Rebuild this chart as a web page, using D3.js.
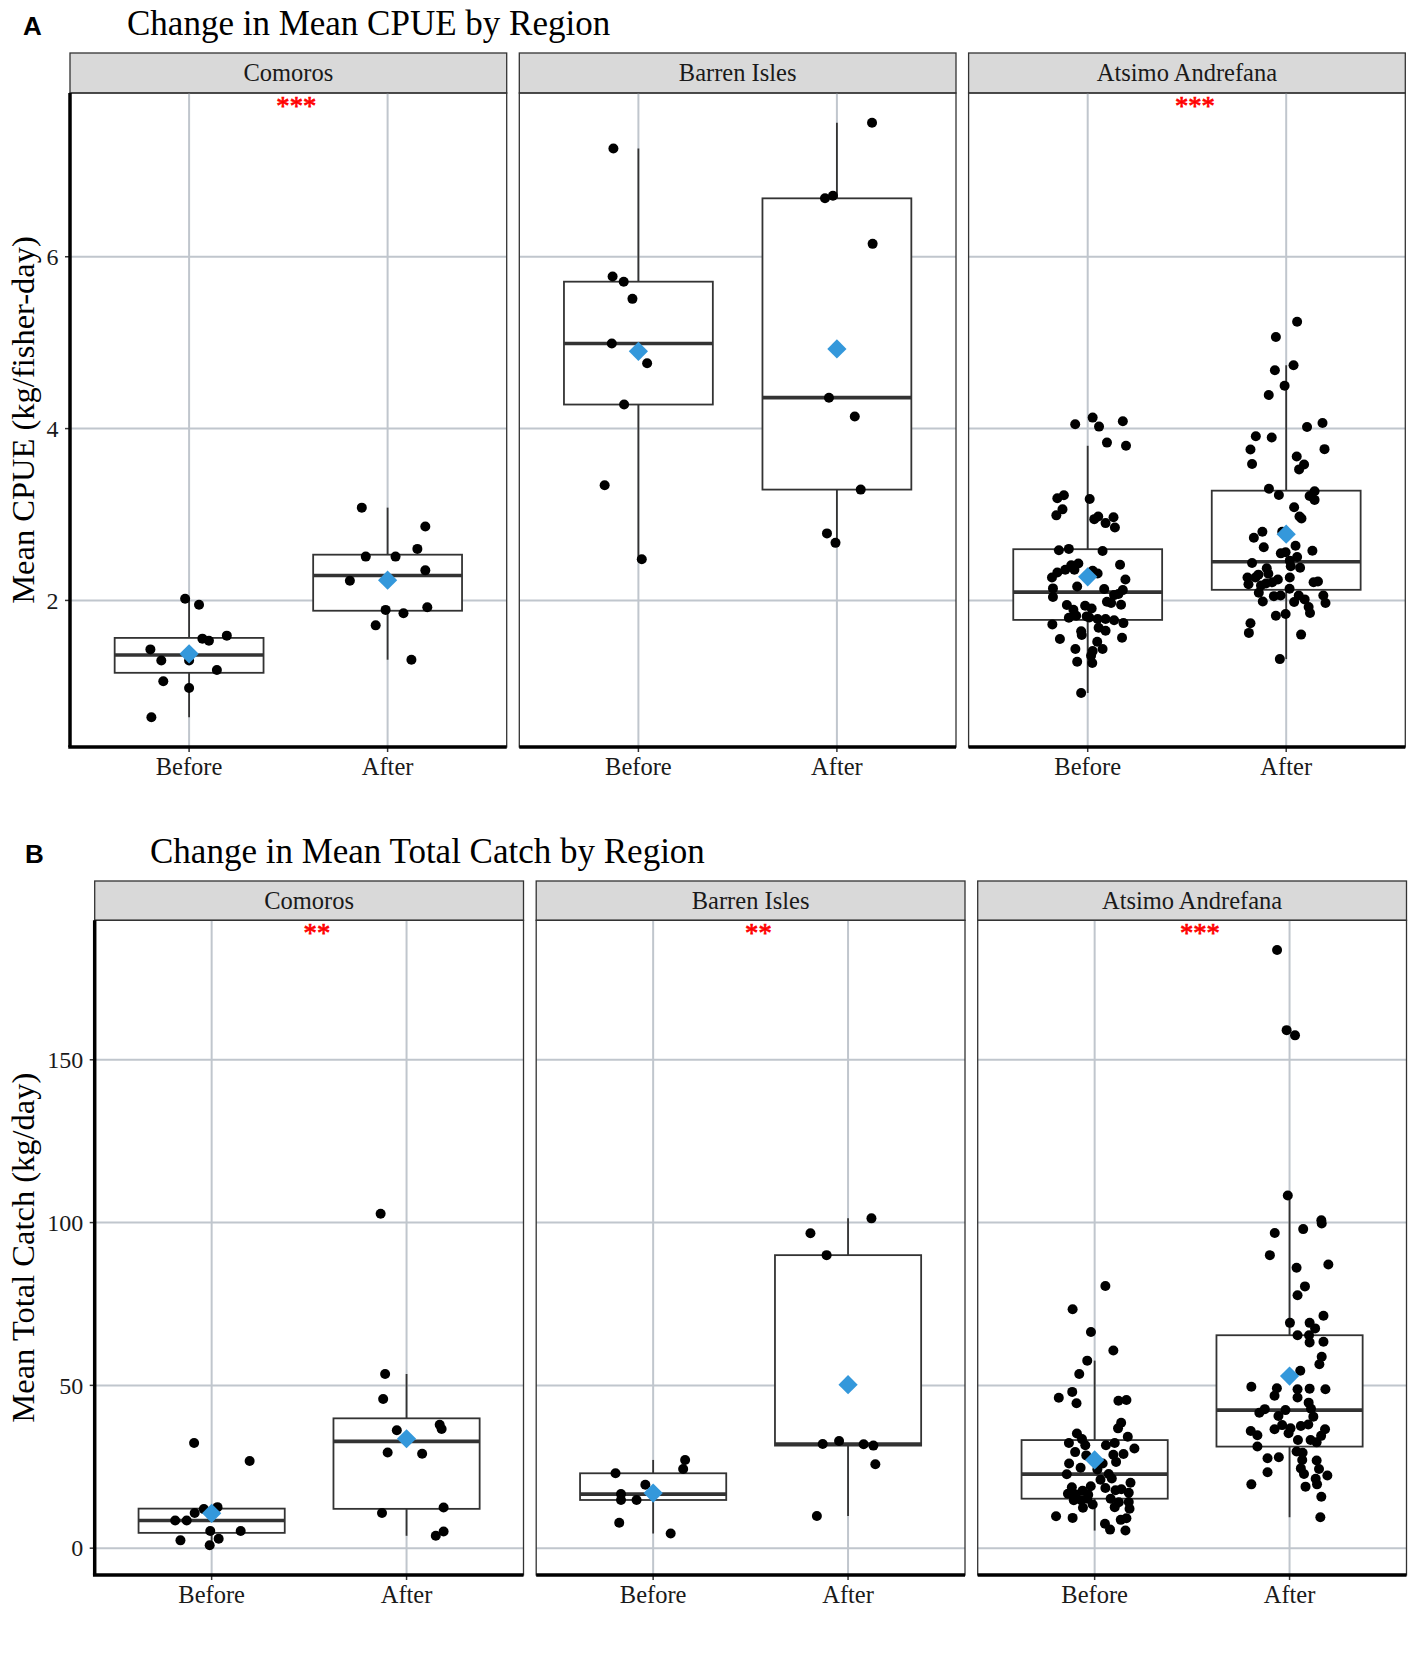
<!DOCTYPE html>
<html>
<head>
<meta charset="utf-8">
<script src="https://cdn.jsdelivr.net/npm/d3@7"></script>
<style>
body { margin: 0; background: #fff; }
text { font-family: "Liberation Serif", "Times New Roman", serif; }
</style>
</head>
<body>
<svg></svg>
<script>
// categories
var regions = ["Comoros", "Barren Isles", "Atsimo Andrefana"];
var periods = ["Before", "After"];
var cpueTicks = [2, 4, 6];
var catchTicks = [0, 50, 100, 150];
var cpueStars = ["***", "", "***"];
var catchStars = ["**", "**", "***"];

// mean CPUE (kg/fisher-day), one value per fisher, plus the jitter
var cpueComorosBefore = [2.02,1.95,1.555,1.53,1.59,1.43,1.30,1.30,1.19,1.06,0.98,0.64];
var cpueComorosBeforeJit = [-0.02,0.05,0.067,0.10,0.19,-0.195,-0.14,0.0,0.14,-0.13,0.0,-0.19];
var cpueComorosAfter = [3.08,2.86,2.51,2.51,2.60,2.35,2.23,1.89,1.85,1.92,1.71,1.31];
var cpueComorosAfterJit = [-0.13,0.19,-0.11,0.04,0.15,0.19,-0.19,-0.01,0.08,0.20,-0.06,0.12];
var cpueBarrenBefore = [7.26,5.77,5.71,5.51,4.99,4.76,4.28,3.34,2.48];
var cpueBarrenBeforeJit = [-0.126,-0.13,-0.074,-0.03,-0.134,0.044,-0.072,-0.17,0.017];
var cpueBarrenAfter = [7.56,6.68,6.71,6.15,4.36,4.14,3.29,2.78,2.67];
var cpueBarrenAfterJit = [0.177,-0.06,-0.02,0.18,-0.04,0.09,0.12,-0.05,-0.007];
var cpueAtsimoBefore = [4.128,4.05,4.023,4.085,3.837,3.80,3.225,3.19,3.18,3.06,
    2.99,2.977,2.946,2.969,2.90,2.849,2.60,2.585,2.575,2.415,
    2.43,2.41,2.357,2.326,2.267,2.357,2.345,2.314,2.244,2.163,
    2.14,2.132,2.12,2.04,2.062,2.074,1.984,1.969,1.95,1.946,
    1.891,1.938,1.907,1.798,1.822,1.814,1.802,1.783,1.783,1.77,
    1.736,1.721,1.682,1.647,1.64,1.597,1.55,1.566,1.52,1.434,
    1.434,1.41,1.357,1.287,1.271,0.922];
var cpueAtsimoBeforeJit = [0.025,-0.063,0.057,0.177,0.097,0.193,-0.12,-0.153,0.01,-0.127,
    -0.158,0.053,0.033,0.13,0.09,0.137,-0.095,-0.145,0.075,0.163,
    -0.047,-0.083,-0.113,-0.153,-0.18,-0.067,0.025,0.05,0.19,-0.053,
    -0.175,0.083,0.177,-0.175,0.133,0.155,0.097,0.118,0.168,-0.105,
    -0.072,-0.013,0.02,-0.095,-0.058,-0.005,0.008,0.05,0.09,0.133,
    0.18,-0.178,0.055,0.09,-0.033,-0.03,-0.14,0.173,0.048,-0.062,
    0.075,0.025,0.017,-0.053,0.023,-0.033];
var cpueAtsimoAfter = [5.243,5.066,4.737,4.68,4.498,4.39,4.066,4.019,3.911,3.896,
    3.761,3.757,3.676,3.583,3.525,3.587,3.30,3.27,3.228,3.216,
    3.17,3.085,2.977,2.954,2.80,2.73,2.80,2.618,2.637,2.579,
    2.548,2.56,2.506,2.463,2.436,2.398,2.375,2.31,2.266,2.266,
    2.266,2.243,2.212,2.197,2.189,2.174,2.212,2.135,2.089,2.05,
    2.058,2.058,1.988,2.058,1.981,2.012,1.923,1.969,1.853,1.822,
    1.842,1.734,1.622,1.602,1.317,2.22,2.30,2.38];
var cpueAtsimoAfterJit = [0.055,-0.052,0.037,-0.057,-0.008,-0.088,0.183,0.105,-0.153,-0.073,
    0.193,-0.18,0.053,0.09,0.065,-0.172,-0.087,0.143,-0.037,0.118,
    0.143,0.04,0.067,0.077,-0.12,-0.163,-0.02,-0.113,0.047,0.132,
    -0.027,-0.003,0.055,0.018,-0.172,0.023,-0.098,-0.09,-0.195,-0.155,
    0.018,-0.042,-0.07,-0.102,-0.19,-0.127,0.138,0.017,-0.138,-0.062,
    -0.028,0.063,-0.118,0.187,0.04,0.093,0.113,0.198,0.12,-0.052,
    -0.003,-0.18,-0.188,0.075,-0.032,0.16,-0.14,0.07];

// mean total catch (kg/day)
var catchComorosBefore = [32.3,26.8,12.6,12.0,10.8,8.5,8.5,5.3,5.3,2.9,2.4,0.9];
var catchComorosBeforeJit = [-0.09,0.195,0.03,-0.04,-0.087,-0.187,-0.128,-0.007,0.149,0.036,-0.16,-0.01];
var catchComorosAfter = [102.7,53.5,45.8,37.9,36.6,36.2,29.4,29.0,12.5,10.8,3.8,5.1];
var catchComorosAfterJit = [-0.133,-0.11,-0.12,0.17,0.18,-0.05,-0.097,0.08,0.19,-0.126,0.15,0.19];
var catchBarrenBefore = [27.1,24.3,23.0,19.5,16.6,14.8,14.8,7.8,4.5];
var catchBarrenBeforeJit = [0.164,0.154,-0.193,-0.04,-0.165,-0.165,-0.085,-0.174,0.09];
var catchBarrenAfter = [101.3,96.7,90.0,32.0,32.9,31.9,31.5,25.8,9.9];
var catchBarrenAfterJit = [0.12,-0.193,-0.11,-0.13,-0.046,0.08,0.13,0.14,-0.16];
var catchAtsimoBefore = [80.5,73.4,66.4,60.7,57.6,53.5,48.0,46.2,44.5,45.3,
    45.5,38.5,36.8,35.2,34.2,33.5,32.3,32.3,31.6,31.6,
    30.6,28.5,28.7,28.9,26.0,26.0,24.7,22.7,24.2,22.8,
    21.4,20.1,18.7,18.5,17.6,18.1,17.8,16.7,16.5,16.4,
    17.0,15.2,14.7,13.4,14.1,14.2,12.4,12.6,12.1,9.8,
    9.3,9.2,8.7,7.5,5.7,5.4,15.2,14.7,19.0,21.0,26.5,29.5];
var catchAtsimoBeforeJit = [0.055,-0.113,-0.019,0.096,-0.038,-0.079,-0.115,-0.184,-0.093,0.122,
    0.163,0.136,0.12,-0.091,0.17,-0.065,-0.132,0.103,0.058,-0.048,
    0.204,-0.043,0.096,0.148,-0.131,0.041,-0.072,-0.143,0.014,0.072,
    0.088,0.184,-0.117,0.055,-0.062,0.137,0.107,-0.137,-0.096,-0.033,
    0.175,0.082,-0.069,-0.01,0.124,0.175,-0.06,0.103,0.179,-0.198,
    -0.113,0.163,0.134,0.053,0.079,0.158,-0.038,-0.107,-0.02,0.03,0.11,-0.1];
var catchAtsimoAfter = [108.3,100.7,99.7,96.8,98.0,90.0,87.1,86.1,80.4,77.7,
    71.4,69.2,69.2,67.5,65.4,65.4,63.2,63.4,58.8,56.5,
    54.5,49.6,49.1,46.8,48.8,49.0,48.8,46.3,44.7,42.7,
    41.6,42.8,42.4,40.6,40.4,37.8,36.5,36.8,37.5,38.0,
    35.3,36.0,34.7,36.5,34.5,33.2,33.2,32.5,31.2,29.7,
    29.3,27.6,27.9,27.1,26.9,24.3,24.5,23.3,22.8,21.3,
    19.6,19.6,18.9,22.3,15.8,9.5,183.7,159.1,157.5];
var catchAtsimoAfterJit = [-0.009,0.163,0.165,-0.076,0.07,-0.101,0.199,0.036,0.079,0.041,
    0.174,0.002,0.103,0.131,0.041,0.1,0.103,0.174,0.165,0.153,
    0.055,-0.196,-0.065,-0.077,0.041,0.103,0.184,0.041,0.098,-0.127,
    -0.155,0.11,-0.021,-0.057,0.122,-0.038,-0.077,0.005,0.058,0.096,
    -0.005,-0.199,-0.165,0.182,0.162,0.043,0.108,0.139,-0.165,0.036,
    0.067,-0.113,-0.055,0.065,0.139,0.151,0.058,-0.113,0.074,0.134,
    -0.196,0.141,0.082,0.194,0.163,0.158,-0.064,-0.015,0.028];


var svgWidth = 1418;
var svgHeight = 1653;
var svg = d3.select("svg")
    .attr("width", svgWidth)
    .attr("height", svgHeight);

var gridColour = "#c0c6cd";
var lineColour = "#333333";
var meanColour = "#3498db";

// quartiles the way R does them (type 7), tukey whiskers
boxStats = function(values){
    var s = values.slice().sort(d3.ascending);
    var q1 = d3.quantile(s, 0.25);
    var q3 = d3.quantile(s, 0.75);
    var iqr = q3 - q1;
    return {
        q1: q1,
        med: d3.quantile(s, 0.5),
        q3: q3,
        lo: d3.min(s.filter(v => v >= q1 - 1.5 * iqr)),
        hi: d3.max(s.filter(v => v <= q3 + 1.5 * iqr)),
        mean: d3.mean(s)
    };
}

drawRow = function(row){
    var panelTop = row.stripTop + row.stripH;

    // shared y scale with ggplot's 5% expansion
    var all = d3.merge(row.groups.map(g => g.before.concat(g.after)));
    var ext = d3.extent(all);
    var pad = (ext[1] - ext[0]) * 0.05;
    var y = d3.scaleLinear()
        .domain([ext[0] - pad, ext[1] + pad])
        .range([row.bottom, panelTop]);

    svg.append("text")
        .attr("x", row.letterX)
        .attr("y", row.titleY)
        .style("font-family", "'Liberation Sans', Arial, sans-serif")
        .style("font-weight", "bold")
        .style("font-size", "26px")
        .attr("fill", "black")
        .text(row.letter);

    svg.append("text")
        .attr("x", row.titleX)
        .attr("y", row.titleY)
        .style("font-size", "35px")
        .attr("fill", "black")
        .text(row.title);

    // y axis title
    svg.append("text")
        .attr("transform", "translate(33.5," + ((panelTop + row.bottom) / 2) + ") rotate(-90)")
        .attr("text-anchor", "middle")
        .style("font-size", "32.5px")
        .attr("fill", "black")
        .text(row.ylabel);

    // y tick labels + ticks, only on the first panel
    svg.append("g")
        .selectAll(null)
        .data(row.ticks)
        .enter()
        .append("text")
        .attr("x", row.left - 11.5)
        .attr("y", d => y(d))
        .attr("dy", "0.34em")
        .attr("text-anchor", "end")
        .style("font-size", "24px")
        .attr("fill", "#1a1a1a")
        .text(d => d);
    svg.append("g")
        .selectAll(null)
        .data(row.ticks)
        .enter()
        .append("line")
        .attr("x1", row.left - 5)
        .attr("x2", row.left)
        .attr("y1", d => y(d))
        .attr("y2", d => y(d))
        .attr("stroke", lineColour)
        .attr("stroke-width", 1.5);

    row.groups.forEach(function(g, i){
        var left = row.left + i * (row.panelW + row.gap);
        var x = d3.scaleLinear()
            .domain([0.4, 2.6])
            .range([left, left + row.panelW]);
        var p = svg.append("g");

        // strip
        p.append("rect")
            .attr("x", left)
            .attr("y", row.stripTop)
            .attr("width", row.panelW)
            .attr("height", row.stripH)
            .attr("fill", "#d9d9d9")
            .attr("stroke", lineColour)
            .attr("stroke-width", 1.3);
        p.append("text")
            .attr("x", left + row.panelW / 2)
            .attr("y", row.stripTop + row.stripH / 2)
            .attr("dy", "0.33em")
            .attr("text-anchor", "middle")
            .style("font-size", "24.5px")
            .attr("fill", "#1a1a1a")
            .text(regions[i]);

        // gridlines
        p.selectAll(null)
            .data(row.ticks)
            .enter()
            .append("line")
            .attr("x1", left)
            .attr("x2", left + row.panelW)
            .attr("y1", d => y(d))
            .attr("y2", d => y(d))
            .attr("stroke", gridColour)
            .attr("stroke-width", 2);
        p.selectAll(null)
            .data(periods)
            .enter()
            .append("line")
            .attr("x1", (d, k) => x(k + 1))
            .attr("x2", (d, k) => x(k + 1))
            .attr("y1", panelTop)
            .attr("y2", row.bottom)
            .attr("stroke", gridColour)
            .attr("stroke-width", 2);

        [[g.before, g.beforeJit], [g.after, g.afterJit]].forEach(function(grp, k){
            var vals = grp[0];
            var jit = grp[1];
            var st = boxStats(vals);
            var cx = x(k + 1);
            var half = x(k + 1 + 0.375) - cx;

            // whiskers
            p.append("line")
                .attr("x1", cx).attr("x2", cx)
                .attr("y1", y(st.hi)).attr("y2", y(st.q3))
                .attr("stroke", lineColour).attr("stroke-width", 1.8);
            p.append("line")
                .attr("x1", cx).attr("x2", cx)
                .attr("y1", y(st.q1)).attr("y2", y(st.lo))
                .attr("stroke", lineColour).attr("stroke-width", 1.8);
            // box
            p.append("rect")
                .attr("x", cx - half)
                .attr("y", y(st.q3))
                .attr("width", half * 2)
                .attr("height", y(st.q1) - y(st.q3))
                .attr("fill", "white")
                .attr("stroke", lineColour)
                .attr("stroke-width", 1.8);
            p.append("line")
                .attr("x1", cx - half).attr("x2", cx + half)
                .attr("y1", y(st.med)).attr("y2", y(st.med))
                .attr("stroke", lineColour).attr("stroke-width", 3.6);

            // jittered points
            p.selectAll(null)
                .data(vals)
                .enter()
                .append("circle")
                .attr("cx", (d, j) => x(k + 1 + jit[j]))
                .attr("cy", d => y(d))
                .attr("r", 5)
                .attr("fill", "black");

            // mean diamond
            p.append("path")
                .attr("d", d3.symbol().type(d3.symbolSquare).size(185)())
                .attr("transform", "translate(" + cx + "," + y(st.mean) + ") rotate(45)")
                .attr("fill", meanColour);
        });

        // significance stars
        p.append("text")
            .attr("x", x(1.54))
            .attr("y", panelTop + 22)
            .attr("text-anchor", "middle")
            .style("font-size", "26.6px")
            .attr("fill", "#ff0000")
            .attr("stroke", "#ff0000")
            .attr("stroke-width", 0.7)
            .text(row.stars[i]);

        // panel border
        p.append("rect")
            .attr("x", left)
            .attr("y", panelTop)
            .attr("width", row.panelW)
            .attr("height", row.bottom - panelTop)
            .attr("fill", "none")
            .attr("stroke", lineColour)
            .attr("stroke-width", 1.3);

        // x ticks and labels
        p.selectAll(null)
            .data(periods)
            .enter()
            .append("line")
            .attr("x1", (d, k) => x(k + 1))
            .attr("x2", (d, k) => x(k + 1))
            .attr("y1", row.bottom)
            .attr("y2", row.bottom + 5)
            .attr("stroke", lineColour)
            .attr("stroke-width", 1.5);
        p.selectAll(null)
            .data(periods)
            .enter()
            .append("text")
            .attr("x", (d, k) => x(k + 1))
            .attr("y", row.bottom + 28)
            .attr("text-anchor", "middle")
            .style("font-size", "24.5px")
            .attr("fill", "#1a1a1a")
            .text(d => d);

        // heavy axis lines
        p.append("line")
            .attr("x1", left - (i == 0 ? 1.75 : 0))
            .attr("x2", left + row.panelW)
            .attr("y1", row.bottom)
            .attr("y2", row.bottom)
            .attr("stroke", "black")
            .attr("stroke-width", 3.5);
        if(i == 0){
            p.append("line")
                .attr("x1", left)
                .attr("x2", left)
                .attr("y1", panelTop)
                .attr("y2", row.bottom)
                .attr("stroke", "black")
                .attr("stroke-width", 3.5);
        }
    });
}

drawRow({
    letter: "A", letterX: 23, title: "Change in Mean CPUE by Region", titleX: 127, titleY: 35,
    ylabel: "Mean CPUE (kg/fisher-day)", ticks: cpueTicks, stars: cpueStars,
    stripTop: 53, stripH: 40, bottom: 747, left: 70, panelW: 436.7, gap: 12.6,
    groups: [
        {before: cpueComorosBefore, beforeJit: cpueComorosBeforeJit, after: cpueComorosAfter, afterJit: cpueComorosAfterJit},
        {before: cpueBarrenBefore, beforeJit: cpueBarrenBeforeJit, after: cpueBarrenAfter, afterJit: cpueBarrenAfterJit},
        {before: cpueAtsimoBefore, beforeJit: cpueAtsimoBeforeJit, after: cpueAtsimoAfter, afterJit: cpueAtsimoAfterJit}
    ]
});

drawRow({
    letter: "B", letterX: 25, title: "Change in Mean Total Catch by Region", titleX: 150, titleY: 863,
    ylabel: "Mean Total Catch (kg/day)", ticks: catchTicks, stars: catchStars,
    stripTop: 881, stripH: 39.3, bottom: 1575, left: 94.7, panelW: 428.8, gap: 12.7,
    groups: [
        {before: catchComorosBefore, beforeJit: catchComorosBeforeJit, after: catchComorosAfter, afterJit: catchComorosAfterJit},
        {before: catchBarrenBefore, beforeJit: catchBarrenBeforeJit, after: catchBarrenAfter, afterJit: catchBarrenAfterJit},
        {before: catchAtsimoBefore, beforeJit: catchAtsimoBeforeJit, after: catchAtsimoAfter, afterJit: catchAtsimoAfterJit}
    ]
});
</script>
</body>
</html>
